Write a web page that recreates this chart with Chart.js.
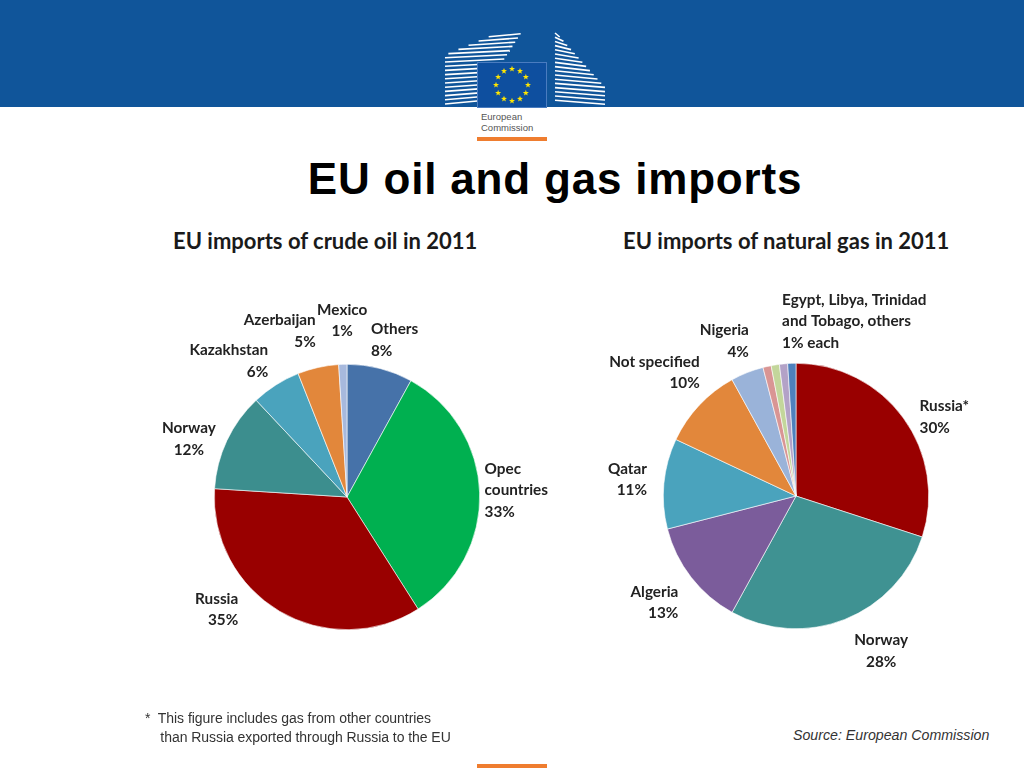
<!DOCTYPE html>
<html>
<head>
<meta charset="utf-8">
<script src="https://cdn.jsdelivr.net/npm/chart.js@4.4.1/dist/chart.umd.min.js"></script>
<style>
  html, body { margin: 0; padding: 0; background: #fff; }
  #slide { position: relative; width: 1024px; height: 768px; overflow: hidden; background: #fff; }
  #header { position: absolute; left: 0; top: 0; }
  .txt { position: absolute; white-space: nowrap; }
  #title { left: 0; width: 1110px; top: 154px; text-align: center; font: bold 44px "Liberation Sans", Arial, sans-serif; letter-spacing: 0.8px; color: #000; }
  .subtitle { top: 227px; font: bold 22px Lato, "Noto Sans", sans-serif; color: #1a1a1a; }
  #oilTitle { left: 173px; }
  #gasTitle { left: 623px; }
  #note { left: 145px; top: 709px; font: 14px "Liberation Sans", Arial, sans-serif; letter-spacing: -0.05px; line-height: 19px; color: #333; }
  #source { left: 793px; top: 727px; font: italic 14.2px "Liberation Sans", Arial, sans-serif; color: #333; }
  #ecText { left: 481px; top: 111px; font: 9.5px "Liberation Sans", Arial, sans-serif; line-height: 11px; color: #555; }
  #oilWrap { position: absolute; left: 127px; top: 277px; width: 440px; height: 440px; }
  #gasWrap { position: absolute; left: 576px; top: 276px; width: 440px; height: 440px; }
</style>
</head>
<body>
<div id="slide">
  <svg id="header" width="1024" height="145"></svg>
  <div class="txt" id="ecText">European<br>Commission</div>
  <div class="txt" id="title">EU oil and gas imports</div>
  <div class="txt subtitle" id="oilTitle">EU imports of crude oil in 2011</div>
  <div class="txt subtitle" id="gasTitle">EU imports of natural gas in 2011</div>
  <div id="oilWrap"><canvas id="oil-chart" width="440" height="440"></canvas></div>
  <div id="gasWrap"><canvas id="gas-chart" width="440" height="440"></canvas></div>
  <div class="txt" id="note">*&nbsp; This figure includes gas from other countries<br>&nbsp;&nbsp;&nbsp; than Russia exported through Russia to the EU</div>
  <div class="txt" id="source">Source: European Commission</div>
  <div style="position:absolute;left:477px;top:764px;width:70px;height:4px;background:#EF7D2F"></div>
</div>

<script>
// Crude oil, shares in %
const oilCountries = ['Others', 'Opec countries', 'Russia', 'Norway', 'Kazakhstan', 'Azerbaijan', 'Mexico'];
const oilShares = [8, 33, 35, 12, 6, 5, 1];
const oilLabelNames = ['Others', 'Opec\ncountries', 'Russia', 'Norway', 'Kazakhstan', 'Azerbaijan', 'Mexico'];
const oilColors = ['#4672A9', '#00B050', '#990000', '#3C8E8E', '#4AA3BD', '#E2873B', '#A7B9DD'];

// Natural gas, shares in %
const gasCountries = ['Russia*', 'Norway', 'Algeria', 'Qatar', 'Not specified', 'Nigeria', 'Egypt', 'Libya', 'Trinidad and Tobago', 'others'];
const gasShares = [30, 28, 13, 11, 10, 4, 1, 1, 1, 1];
const gasLabelNames = ['Russia*', 'Norway', 'Algeria', 'Qatar', 'Not specified', 'Nigeria', '', 'Egypt, Libya, Trinidad\nand Tobago, others', '', ''];
const gasColors = ['#990000', '#3F9292', '#7B5C9B', '#4AA3BD', '#E2873B', '#9AB3D9', '#D99594', '#C3D69B', '#B3A2C7', '#4F81BD'];

// label nudges from the arc midpoint: [dx, dy, align]
const oilNudges = [[-14, -9, 'left'], [-15, -2, 'left'], [-31, -19, 'right'], [-20, 7, 'center'], [3, -7, 'right'], [2, -17, 'right'], [0, -24, 'center']];
const gasNudges = [[0, 11, 'left'], [29, 13, 'center'], [3, 13, 'right'], [3, -2, 'right'], [15, -19, 'right'], [9, -13, 'right'], null, [10, -24, 'left'], null, null];

document.addEventListener('DOMContentLoaded', function() {
    drawHeader();
    initializeCharts();
});

function drawHeader() {
    const svg = document.getElementById('header');
    let html = '<rect x="0" y="0" width="1024" height="107" fill="#10559A"/>';
    // left building
    for (let y = 104; y > 33; y -= 4.2) {
        const x1 = y > 55 ? 445 : 445 + (55 - y) * 2.4;
        const x2 = 477 + (104 - y) * 0.65;
        html += `<line x1="${x1}" y1="${y}" x2="${x2}" y2="${y - 3}" stroke="#fff" stroke-width="1.6"/>`;
    }
    // right building
    for (let y = 33; y < 104; y += 4.2) {
        const x2 = Math.min(605, 557 + (y - 30) * 0.9);
        html += `<line x1="555" y1="${y}" x2="${x2}" y2="${y + 4}" stroke="#fff" stroke-width="1.6"/>`;
    }
    html += '<rect x="477.5" y="62.5" width="69" height="45" fill="#0E4F9F" stroke="#4A7CC0" stroke-width="1"/>';
    // stars
    for (let k = 0; k < 12; k++) {
        const a = k * Math.PI / 6;
        const cx = 512 + 16 * Math.sin(a), cy = 85 - 16 * Math.cos(a);
        let pts = [];
        for (let j = 0; j < 10; j++) {
            const r = j % 2 ? 1.3 : 3.2;
            const b = j * Math.PI / 5;
            pts.push((cx + r * Math.sin(b)).toFixed(1) + ',' + (cy - r * Math.cos(b)).toFixed(1));
        }
        html += `<polygon points="${pts.join(' ')}" fill="#FFE600"/>`;
    }
    html += '<rect x="477" y="137" width="70" height="4" fill="#EF7D2F"/>';
    svg.innerHTML = html;
}

const outLabels = {
    id: 'outLabels',
    afterDraw(chart, args, opts) {
        const ctx = chart.ctx;
        const meta = chart.getDatasetMeta(0);
        ctx.save();
        ctx.font = opts.font;
        ctx.fillStyle = opts.color;
        ctx.textBaseline = 'middle';
        opts.texts.forEach((text, i) => {
            if (!text) return;
            const p = meta.data[i].getProps(['x', 'y', 'startAngle', 'endAngle', 'outerRadius'], true);
            const mid = (p.startAngle + p.endAngle) / 2;
            const r = p.outerRadius + opts.gap;
            const n = opts.nudges[i];
            const ax = p.x + Math.cos(mid) * r + n[0];
            const ay = p.y + Math.sin(mid) * r + n[1];
            const lines = text.split('\n');
            ctx.textAlign = n[2];
            const top = ay - (lines.length - 1) * opts.lineHeight / 2;
            lines.forEach((ln, k) => ctx.fillText(ln, ax, top + k * opts.lineHeight));
        });
        ctx.restore();
    }
};

function pieConfig(labels, shares, colors, texts, nudges) {
    return {
        type: 'pie',
        data: {
            labels: labels,
            datasets: [{
                data: shares,
                backgroundColor: colors,
                borderColor: '#ffffff',
                borderWidth: 0.6
            }]
        },
        options: {
            responsive: false,
            animation: false,
            layout: { padding: 87 },
            plugins: {
                legend: { display: false },
                tooltip: { enabled: false },
                outLabels: {
                    texts: texts,
                    nudges: nudges,
                    gap: 20,
                    lineHeight: 21.5,
                    font: 'bold 15.3px Lato, "Noto Sans", sans-serif',
                    color: '#222'
                }
            }
        },
        plugins: [outLabels]
    };
}

function initializeCharts() {
    // Crude oil pie
    const oilTexts = oilLabelNames.map((n, i) => n + '\n' + oilShares[i] + '%');
    new Chart(document.getElementById('oil-chart'),
        pieConfig(oilCountries, oilShares, oilColors, oilTexts, oilNudges));

    // Natural gas pie, the four 1% slices share one label
    const gasTexts = gasLabelNames.map((n, i) => {
        if (!n) return '';
        return n + '\n' + gasShares[i] + '%' + (i === 7 ? ' each' : '');
    });
    new Chart(document.getElementById('gas-chart'),
        pieConfig(gasCountries, gasShares, gasColors, gasTexts, gasNudges));
}
</script>
</body>
</html>
